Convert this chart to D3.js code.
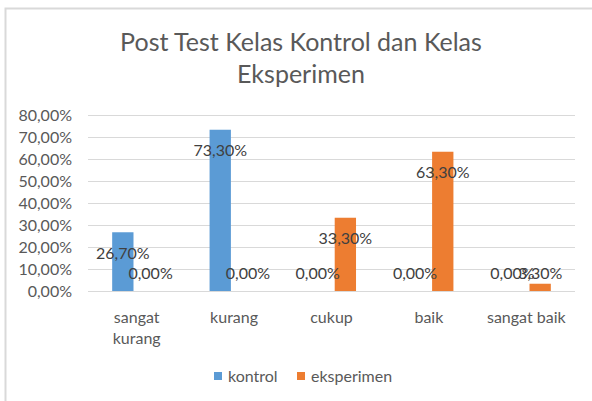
<!DOCTYPE html>
<html>
<head>
<meta charset="utf-8">
<script src="https://cdn.jsdelivr.net/npm/d3@7"></script>
<style>
  body { margin: 0; background: #fff; }
  svg { display: block; font-family: Lato, "Open Sans", sans-serif; }
</style>
</head>
<body>
<div id="chart"></div>
<script>
const categories = ['sangat kurang', 'kurang', 'cukup', 'baik', 'sangat baik'];
const seriesNames = ['kontrol', 'eksperimen'];
const kontrol = [26.7, 73.3, 0, 0, 0];
const eksperimen = [0, 0, 33.3, 63.3, 3.3];
const yTicks = [0, 10, 20, 30, 40, 50, 60, 70, 80];
const colors = ['#5B9BD5', '#ED7D31'];

const width = 592, height = 401;
const margin = { top: 115, right: 17, bottom: 110, left: 88 };
const fmt = v => v.toFixed(2).replace('.', ',') + '%';

const svg = d3.select('#chart').append('svg')
  .attr('width', width)
  .attr('height', height);

// frame
svg.append('path')
  .attr('d', `M5.5,${height} V8.5 H${width}`)
  .attr('fill', 'none')
  .attr('stroke', '#d9d9d9')
  .attr('stroke-width', 2);

// title
svg.append('text')
  .attr('x', 301).attr('y', 51)
  .attr('text-anchor', 'middle')
  .attr('fill', '#595959')
  .attr('font-size', 25)
  .text('Post Test Kelas Kontrol dan Kelas');
svg.append('text')
  .attr('x', 301).attr('y', 83)
  .attr('text-anchor', 'middle')
  .attr('fill', '#595959')
  .attr('font-size', 25)
  .text('Eksperimen');

const x0 = d3.scaleBand()
  .domain(categories)
  .range([margin.left, width - margin.right]);

const x1 = d3.scaleBand()
  .domain(seriesNames)
  .range([0, x0.bandwidth()])
  .paddingInner(0.231)
  .paddingOuter(0.872);

const y = d3.scaleLinear()
  .domain([0, 80])
  .range([height - margin.bottom, margin.top]);

// gridlines
svg.append('g')
  .selectAll('line')
  .data(yTicks)
  .join('line')
  .attr('x1', margin.left)
  .attr('x2', width - margin.right)
  .attr('y1', d => Math.round(y(d)) + 0.5)
  .attr('y2', d => Math.round(y(d)) + 0.5)
  .attr('stroke', '#d9d9d9')
  .attr('stroke-width', 1);

// y tick labels
svg.append('g')
  .selectAll('text')
  .data(yTicks)
  .join('text')
  .attr('x', 72)
  .attr('y', d => y(d))
  .attr('dy', '0.35em')
  .attr('text-anchor', 'end')
  .attr('fill', '#595959')
  .attr('font-size', 16)
  .text(fmt);

const rows = categories.map((c, i) => ({
  cat: c,
  vals: [kontrol[i], eksperimen[i]]
}));

const groups = svg.append('g')
  .selectAll('g')
  .data(rows)
  .join('g')
  .attr('transform', d => `translate(${x0(d.cat)},0)`);

groups.selectAll('rect')
  .data(d => d.vals.map((v, j) => ({ key: seriesNames[j], v, j })))
  .join('rect')
  .attr('x', d => x1(d.key))
  .attr('width', x1.bandwidth())
  .attr('y', d => y(d.v))
  .attr('height', d => y(0) - y(d.v))
  .attr('fill', d => colors[d.j]);

groups.selectAll('text')
  .data(d => d.vals.map((v, j) => ({ key: seriesNames[j], v, j })))
  .join('text')
  .attr('x', d => x1(d.key) + x1.bandwidth() / 2)
  .attr('y', d => Math.min(y(d.v) + 21, y(0) - 18))
  .attr('dy', '0.35em')
  .attr('text-anchor', 'middle')
  .attr('fill', '#404040')
  .attr('font-size', 16)
  .text(d => fmt(d.v));

// category labels (wrapped like Excel)
const catLines = { 'sangat kurang': ['sangat', 'kurang'] };
svg.append('g')
  .selectAll('text')
  .data(categories)
  .join('text')
  .attr('x', d => x0(d) + x0.bandwidth() / 2)
  .attr('y', 317)
  .attr('text-anchor', 'middle')
  .attr('fill', '#595959')
  .attr('font-size', 16)
  .each(function (d) {
    const lines = catLines[d] || [d];
    d3.select(this).selectAll('tspan')
      .data(lines)
      .join('tspan')
      .attr('x', x0(d) + x0.bandwidth() / 2)
      .attr('dy', (l, i) => i === 0 ? '0.35em' : 21)
      .text(l => l);
  });

// legend
const legendX = [214, 297];
const legend = svg.append('g')
  .selectAll('g')
  .data(seriesNames)
  .join('g')
  .attr('transform', (d, i) => `translate(${legendX[i]},372)`);
legend.append('rect')
  .attr('width', 8).attr('height', 8)
  .attr('fill', (d, i) => colors[i]);
legend.append('text')
  .attr('x', 14).attr('y', 4)
  .attr('dy', '0.35em')
  .attr('fill', '#595959')
  .attr('font-size', 16)
  .text(d => d);
</script>
</body>
</html>
